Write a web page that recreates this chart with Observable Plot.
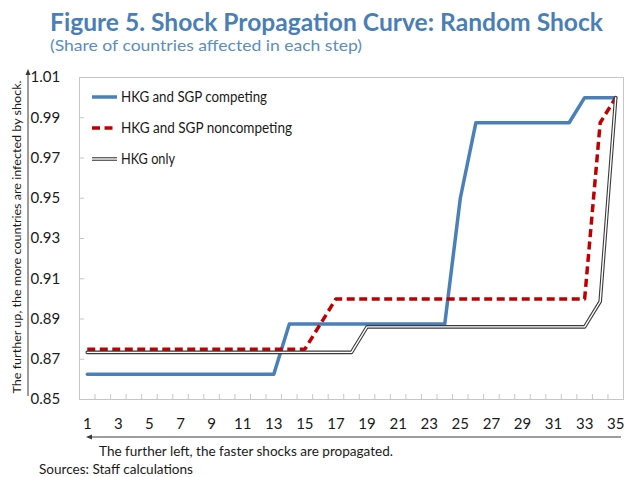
<!DOCTYPE html>
<html>
<head>
<meta charset="utf-8">
<script src="https://cdn.jsdelivr.net/npm/d3@7"></script>
<script src="https://cdn.jsdelivr.net/npm/@observablehq/plot@0.6"></script>
<style>
  html, body { margin: 0; padding: 0; background: #fff; }
  body { width: 627px; height: 477px; overflow: hidden; font-family: Lato, "Open Sans", sans-serif; }
  svg { display: block; }
</style>
</head>
<body>
<div id="chart"></div>
<script>
// ---------------- data ----------------
const titleText = "Figure 5. Shock Propagation Curve: Random Shock";
const subtitleText = "(Share of countries affected in each step)";
const yNote = "The further up, the more countries are infected by shock.";
const xNote = "The further left, the faster shocks are propagated.";
const sourceText = "Sources: Staff calculations";

const steps = [1,2,3,4,5,6,7,8,9,10,11,12,13,14,15,16,17,18,19,20,21,22,23,24,25,26,27,28,29,30,31,32,33,34,35];
const xTickLabels = [1,3,5,7,9,11,13,15,17,19,21,23,25,27,29,31,33,35];
const yTickLabels = [0.85,0.87,0.89,0.91,0.93,0.95,0.97,0.99,1.01];
const seriesNames = ["HKG and SGP competing", "HKG and SGP noncompeting", "HKG only"];

// HKG and SGP competing
const competing = [0.8625,0.8625,0.8625,0.8625,0.8625,0.8625,0.8625,0.8625,0.8625,0.8625,0.8625,0.8625,0.8625,
  0.8875,0.8875,0.8875,0.8875,0.8875,0.8875,0.8875,0.8875,0.8875,0.8875,0.8875,
  0.95,
  0.9875,0.9875,0.9875,0.9875,0.9875,0.9875,0.9875,
  1.0,1.0,1.0];
// HKG and SGP noncompeting
const noncompeting = [0.875,0.875,0.875,0.875,0.875,0.875,0.875,0.875,0.875,0.875,0.875,0.875,0.875,0.875,0.875,
  0.8875,
  0.9,0.9,0.9,0.9,0.9,0.9,0.9,0.9,0.9,0.9,0.9,0.9,0.9,0.9,0.9,0.9,0.9,
  0.9875,
  1.0];
// HKG only
const hkgOnly = [0.8734,0.8734,0.8734,0.8734,0.8734,0.8734,0.8734,0.8734,0.8734,0.8734,0.8734,0.8734,0.8734,0.8734,0.8734,0.8734,0.8734,0.8734,
  0.8861,0.8861,0.8861,0.8861,0.8861,0.8861,0.8861,0.8861,0.8861,0.8861,0.8861,0.8861,0.8861,0.8861,0.8861,
  0.8987,
  1.0];

// ---------------- styles ----------------
const blue = "#4a80b8";
const red = "#c00000";
const dark = "#3a3a3a";
const frameGray = "#c6c6c6";
const titleColor = "#4a7fb5";
const subColor = "#5a8dc4";
const textColor = "#1a1a1a";
const font = "Lato, 'Open Sans', sans-serif";

const rows = vals => steps.map((s, i) => ({step: s, value: vals[i]}));
const boundaries = steps.slice(0, -1).map(s => s + 0.5);

// ---------------- header ----------------
const root = d3.select("#chart");
const header = root.append("svg").attr("width", 627).attr("height", 60);
header.append("text")
  .attr("x", 50).attr("y", 30.5)
  .attr("text-anchor", "start")
  .attr("font-family", font).attr("font-weight", "bold").attr("font-size", 24)
  .attr("fill", titleColor)
  .attr("textLength", 553).attr("lengthAdjust", "spacingAndGlyphs")
  .text(titleText);
header.append("text")
  .attr("x", 50).attr("y", 50.5)
  .attr("text-anchor", "start")
  .attr("font-family", font).attr("font-size", 15)
  .attr("fill", subColor)
  .attr("textLength", 312).attr("lengthAdjust", "spacingAndGlyphs")
  .text(subtitleText);

// ---------------- plot ----------------
const plot = Plot.plot({
  width: 627,
  height: 400,
  marginTop: 17,
  marginBottom: 61,
  marginLeft: 79,
  marginRight: 4,
  style: {fontFamily: font, fontSize: "15px", color: textColor, background: "white", overflow: "visible"},
  x: {domain: [0.5, 35.5], label: null},
  y: {domain: [0.85, 1.01], label: null},
  marks: [
    Plot.frame({stroke: frameGray}),
    Plot.axisX(xTickLabels, {tickSize: 0, tickPadding: 19, fontSize: 15, label: null}),
    Plot.axisX(boundaries, {tickSize: 5, dy: -5, tickFormat: () => "", color: frameGray, label: null}),
    Plot.axisY(yTickLabels, {tickSize: 0, tickPadding: 0, textAnchor: "start", dx: -49, fontSize: 15,
      tickFormat: d3.format(".2f"), label: null}),
    Plot.axisY(yTickLabels.slice(1, -1), {tickSize: 5, dx: 5, tickFormat: () => "", color: frameGray, label: null}),
    Plot.line(rows(competing), {x: "step", y: "value", stroke: blue, strokeWidth: 3.5}),
    Plot.line(rows(noncompeting), {x: "step", y: "value", stroke: red, strokeWidth: 3.5, strokeDasharray: "8,4.5", strokeLinecap: "butt"}),
    Plot.line(rows(hkgOnly), {x: "step", y: "value", stroke: dark, strokeWidth: 3.6}),
    Plot.line(rows(hkgOnly), {x: "step", y: "value", stroke: "white", strokeWidth: 1.4})
  ]
});
root.node().appendChild(plot);

const svg = d3.select(plot);
const ann = svg.append("g").attr("text-anchor", "start");

// y direction arrow + rotated note
ann.append("line").attr("x1", 28).attr("x2", 28).attr("y1", 336).attr("y2", 13)
  .attr("stroke", dark).attr("stroke-width", 1);
ann.append("path").attr("d", "M28,9 L25.5,15 L30.5,15 Z").attr("fill", dark);
ann.append("text")
  .attr("transform", "translate(21,177) rotate(-90)")
  .attr("text-anchor", "middle")
  .attr("font-family", font).attr("font-size", 11)
  .attr("fill", textColor)
  .attr("textLength", 313).attr("lengthAdjust", "spacingAndGlyphs")
  .text(yNote);

// x direction arrow + note
ann.append("line").attr("x1", 621).attr("x2", 90).attr("y1", 377).attr("y2", 377)
  .attr("stroke", dark).attr("stroke-width", 1);
ann.append("path").attr("d", "M86,377 L92,374.5 L92,379.5 Z").attr("fill", dark);
ann.append("text")
  .attr("x", 99).attr("y", 396)
  .attr("text-anchor", "start")
  .attr("font-family", font).attr("font-size", 14)
  .attr("fill", textColor)
  .attr("textLength", 294).attr("lengthAdjust", "spacingAndGlyphs")
  .text(xNote);

// legend
const legend = svg.append("g").attr("font-family", font).attr("font-size", 14.5)
  .attr("fill", textColor).attr("text-anchor", "start");
const legY = [37, 68, 99];
const legW = [146, 171, 54];
legend.append("line").attr("x1", 92).attr("x2", 117).attr("y1", legY[0]).attr("y2", legY[0])
  .attr("stroke", blue).attr("stroke-width", 3.5);
legend.append("line").attr("x1", 92).attr("x2", 117).attr("y1", legY[1]).attr("y2", legY[1])
  .attr("stroke", red).attr("stroke-width", 3.5).attr("stroke-dasharray", "8,4.5");
legend.append("line").attr("x1", 92).attr("x2", 117).attr("y1", legY[2]).attr("y2", legY[2])
  .attr("stroke", dark).attr("stroke-width", 3.6);
legend.append("line").attr("x1", 92).attr("x2", 117).attr("y1", legY[2]).attr("y2", legY[2])
  .attr("stroke", "white").attr("stroke-width", 1.4);
seriesNames.forEach((name, i) => {
  legend.append("text")
    .attr("x", 121).attr("y", legY[i]).attr("dy", "0.35em")
    .attr("text-anchor", "start")
    .attr("textLength", legW[i]).attr("lengthAdjust", "spacingAndGlyphs")
    .text(name);
});

// ---------------- footer ----------------
const footer = root.append("svg").attr("width", 627).attr("height", 17);
footer.append("text")
  .attr("x", 39).attr("y", 14)
  .attr("text-anchor", "start")
  .attr("font-family", font).attr("font-size", 14)
  .attr("fill", textColor)
  .attr("textLength", 154).attr("lengthAdjust", "spacingAndGlyphs")
  .text(sourceText);
</script>
</body>
</html>
